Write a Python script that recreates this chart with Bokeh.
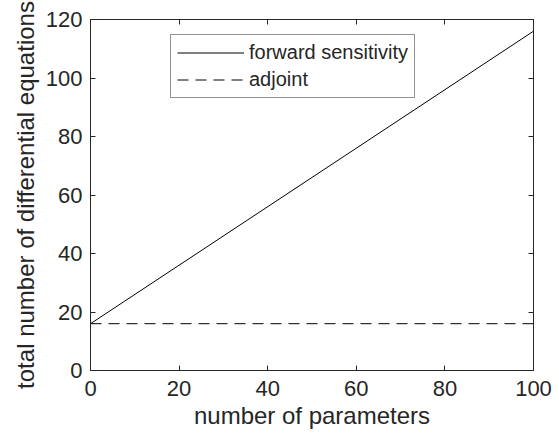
from bokeh.plotting import figure
from bokeh.models import LinearAxis, Legend, LegendItem, Range1d, FixedTicker
from bokeh.embed import file_html
from bokeh.resources import INLINE

# data
n_params = [0, 100]
forward = [16, 116]
adjoint = [16, 16]
x_ticks = [0, 20, 40, 60, 80, 100]
y_ticks = [0, 20, 40, 60, 80, 100, 120]

FONT = "Liberation Sans"
AX = "#262626"

p = figure(width=559, height=438, output_backend="svg", toolbar_location=None,
           x_range=Range1d(0, 100), y_range=Range1d(0, 120),
           min_border_left=90, min_border_right=26, min_border_top=19, min_border_bottom=68,
           x_axis_label="number of parameters",
           y_axis_label="total number of differential equations")
p.grid.visible = False
p.outline_line_color = AX
p.outline_line_width = 1
p.background_fill_color = "white"
p.border_fill_color = "white"

for ax, ticks in ((p.xaxis[0], x_ticks), (p.yaxis[0], y_ticks)):
    ax.ticker = FixedTicker(ticks=ticks)
    ax.major_tick_in = 5
    ax.major_tick_out = 0
    ax.minor_tick_line_color = None
    ax.axis_line_color = AX
    ax.major_tick_line_color = AX
    ax.major_label_text_color = AX
    ax.major_label_text_font = FONT
    ax.major_label_text_font_size = "22px"
    ax.axis_label_text_font = FONT
    ax.axis_label_text_font_size = "24px"
    ax.axis_label_text_font_style = "normal"
    ax.axis_label_text_color = AX

p.xaxis[0].major_label_standoff = 10
p.xaxis[0].axis_label_standoff = 3
p.yaxis[0].major_label_standoff = 8
p.yaxis[0].axis_label_standoff = 4

for loc, ticks in (("above", x_ticks), ("right", y_ticks)):
    a = LinearAxis(ticker=FixedTicker(ticks=ticks), major_tick_in=5, major_tick_out=0,
                   minor_tick_line_color=None, axis_line_color=AX, major_tick_line_color=AX,
                   major_label_text_font_size="0px", major_label_text_color=None,
                   major_label_standoff=0)
    p.add_layout(a, loc)

r1 = p.line(n_params, forward, line_color="black", line_width=1)
r2 = p.line(n_params, adjoint, line_color="black", line_width=1, line_dash="11 7")

legend = Legend(items=[LegendItem(label="forward sensitivity", renderers=[r1]),
                       LegendItem(label="adjoint", renderers=[r2])],
                location=(80, 272))
legend.border_line_color = AX
legend.border_line_width = 1
legend.label_text_font = FONT
legend.label_text_font_size = "20px"
legend.label_text_color = AX
legend.glyph_width = 67
legend.glyph_height = 21
legend.label_height = 21
legend.label_standoff = 5
legend.spacing = 4
legend.padding = 6
legend.margin = 0
legend.background_fill_alpha = 1
p.add_layout(legend, "center")

open("out.html", "w").write(file_html(p, INLINE))
